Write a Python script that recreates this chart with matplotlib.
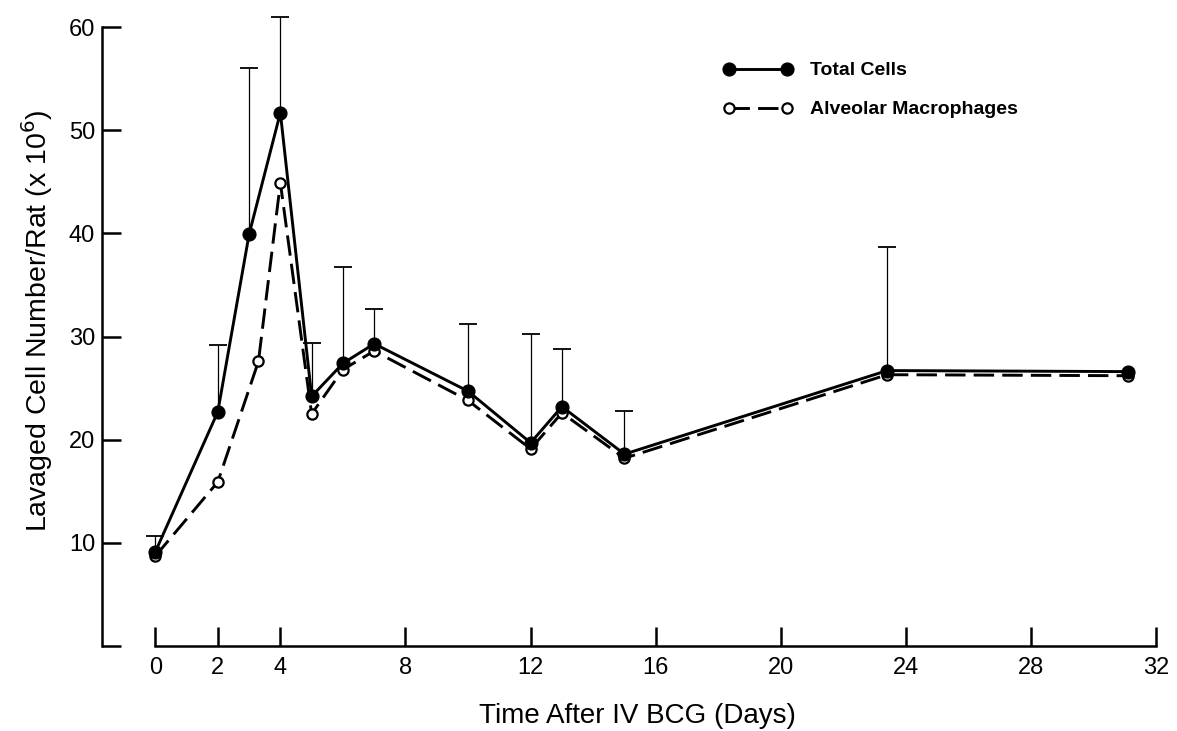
import numpy as np
import matplotlib.pyplot as plt

plt.rcParams['font.family'] = ['Liberation Sans', 'DejaVu Sans']

# data
days_total = [0, 2, 3, 4, 5, 6, 7, 10, 12, 13, 15, 23.4, 31.1]
total_cells = [9.1, 22.7, 39.9, 51.7, 24.2, 27.4, 29.3, 24.7, 19.7, 23.2, 18.6, 26.7, 26.6]
total_upper = [10.7, 29.2, 56.0, 61.0, 29.4, 36.7, 32.7, 31.2, 30.2, 28.8, 22.8, 38.7, np.nan]

days_macro = [0, 2, 3.3, 4, 5, 6, 7, 10, 12, 13, 15, 23.4, 31.1]
macrophages = [8.7, 15.9, 27.6, 44.9, 22.5, 26.8, 28.6, 23.8, 19.1, 22.6, 18.2, 26.3, 26.2]

x_ticks = [0, 2, 4, 8, 12, 16, 20, 24, 28, 32]
y_ticks = [0, 10, 20, 30, 40, 50, 60]
y_ticklabels = ['', '10', '20', '30', '40', '50', '60']

fig = plt.figure(figsize=(11.77, 7.31), dpi=100)
ax = fig.add_axes([0.0867, 0.1163, 0.909, 0.889])

# macrophages first so the filled total-cell markers sit on top
ln_m, = ax.plot(days_macro, macrophages, color='black', lw=2.1, dashes=(7, 2.8),
                marker='o', ms=7.4, mfc='white', mec='black', mew=1.6, zorder=3)
ln_t, = ax.plot(days_total, total_cells, color='black', lw=2.1,
                marker='o', ms=9.2, mfc='black', mec='black', zorder=4)

# upper error bars only (hide the lower cap)
tc = np.array(total_cells)
up = np.array(total_upper) - tc
ok = ~np.isnan(up)
_, caps, _ = ax.errorbar(np.array(days_total)[ok], tc[ok], yerr=[np.zeros(ok.sum()), up[ok]],
                         fmt='none', ecolor='black', elinewidth=0.9, capsize=6.2,
                         capthick=1.3, zorder=2)
caps[0].set_visible(False)

ax.set_xlim(-1.7, 32.5)
ax.set_ylim(0, 63)
ax.spines['top'].set_visible(False)
ax.spines['right'].set_visible(False)
ax.spines['left'].set_bounds(0, 60)
ax.spines['bottom'].set_bounds(0, 32)
for s in ['left', 'bottom']:
    ax.spines[s].set_linewidth(1.8)

ax.set_xticks(x_ticks)
ax.set_xticklabels([str(t) for t in x_ticks])
ax.set_yticks(y_ticks)
ax.set_yticklabels(y_ticklabels)
ax.tick_params(axis='both', direction='in', length=14, width=1.8, labelsize=17)
ax.tick_params(axis='x', pad=8)
ax.tick_params(axis='y', pad=5)

ax.set_xlabel('Time After IV BCG (Days)', fontsize=20, labelpad=17)
ax.set_ylabel('Lavaged Cell Number/Rat (x 10$^6$)', fontsize=20.5, labelpad=10)

leg = ax.legend([ln_t, ln_m], ['Total Cells', 'Alveolar Macrophages'],
                loc='upper left', bbox_to_anchor=(713 / 1177, 1 - 52 / 731),
                bbox_transform=fig.transFigure, frameon=False, numpoints=2,
                handlelength=3.6, handletextpad=0.9, labelspacing=1.1,
                borderpad=0, prop={'weight': 'bold', 'size': 14})

fig.savefig('out.png', dpi=100)
